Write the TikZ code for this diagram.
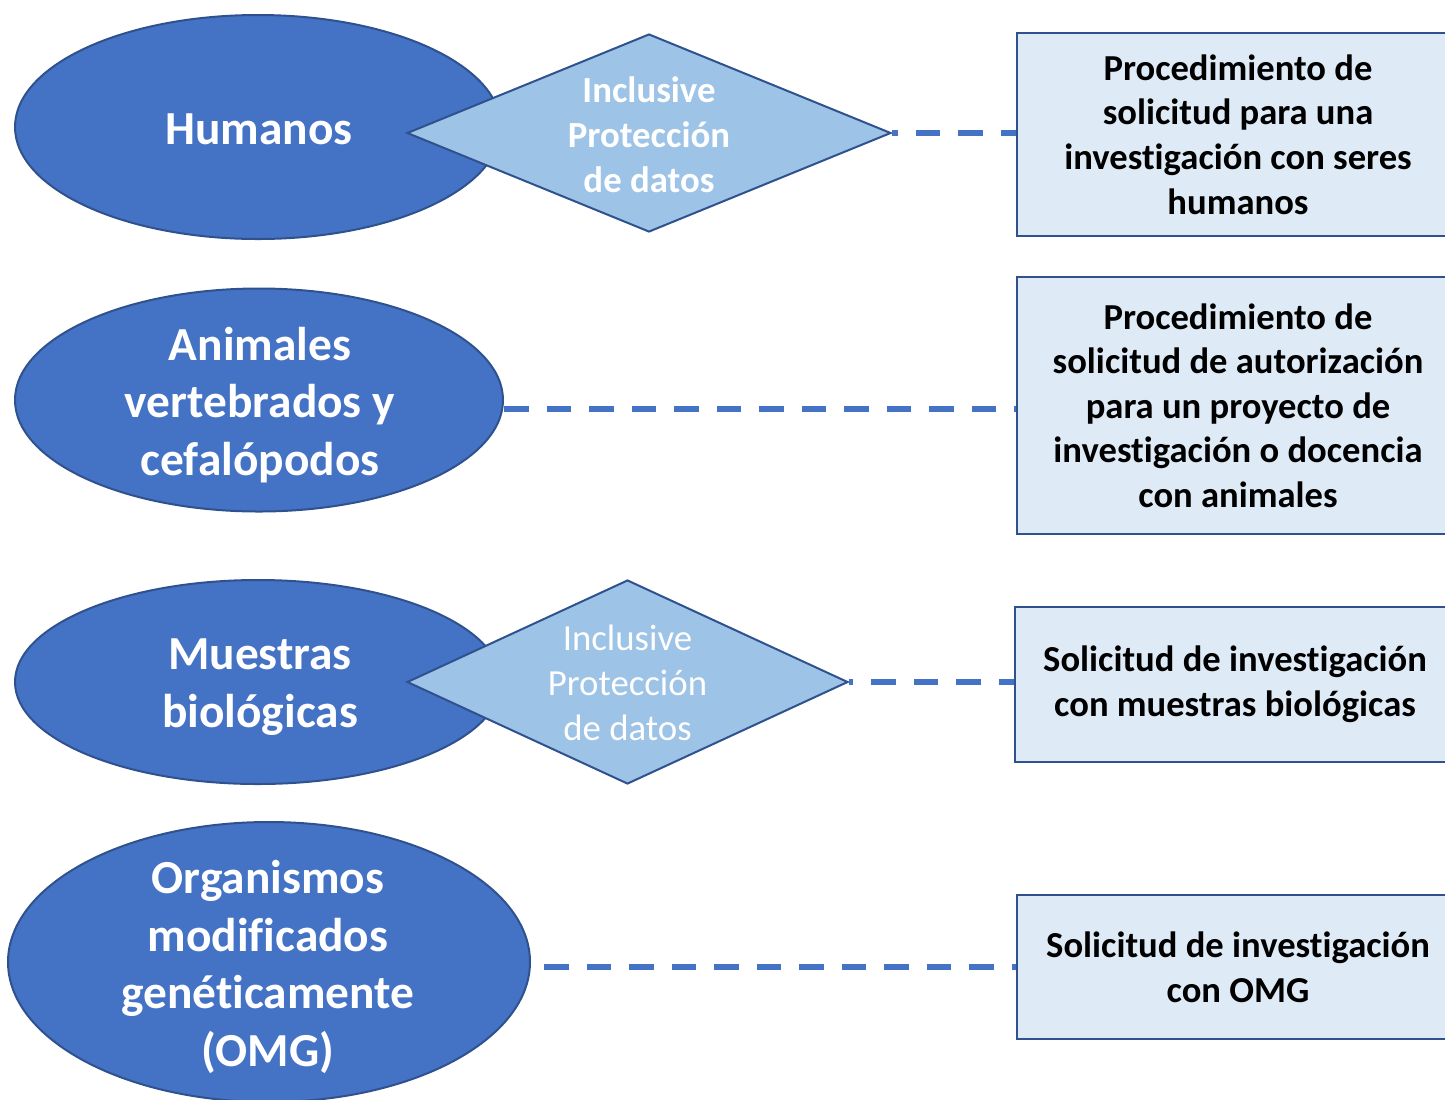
\documentclass[tikz,border=0pt]{standalone}
\usepackage{fontspec}
\setmainfont{Carlito}[RawFeature=-liga]
\usetikzlibrary{shapes.geometric}
\definecolor{ellfill}{HTML}{4472C4}
\definecolor{edgeblue}{HTML}{2F528F}
\definecolor{diafill}{HTML}{9DC3E6}
\definecolor{boxfill}{HTML}{DEEBF7}
\definecolor{dashblue}{HTML}{4472C4}
\tikzset{
  ellnode/.style={ellipse, draw=edgeblue, line width=1pt, fill=ellfill, inner sep=0pt},
  elltext/.style={text=white, align=center, inner sep=0pt, font=\fontsize{23.7}{28.75}\selectfont\bfseries},
  dianode/.style={diamond, draw=edgeblue, line width=1pt, fill=diafill, inner sep=0pt},
  diatext/.style={text=white, align=center, inner sep=0pt, font=\fontsize{18.4}{22.5}\selectfont},
  boxnode/.style={rectangle, draw=edgeblue, line width=1pt, fill=boxfill, inner sep=0pt,
     text=black, align=center, font=\fontsize{18.3}{22.3}\selectfont\bfseries},
  link/.style={draw=dashblue, line width=3pt, dash pattern=on 12.25pt off 9pt}
}
\begin{document}
\begin{tikzpicture}[x=0.5pt,y=-0.5pt]
\useasboundingbox (0,0) rectangle (1445,1099);
% row 1
\node[ellnode, minimum width=243pt, minimum height=112pt] (e1) at (258,127) {};
\node[elltext] (et1) at (259,129) {Humanos};
\node[dianode, minimum width=242pt, minimum height=99pt] (d1) at (649,133) {};
\node[diatext, font=\fontsize{18.4}{22.5}\selectfont\bfseries] (t1) at (649,135) {Inclusive\\Protección\\de datos};
\node[boxnode, minimum width=221pt, minimum height=101.5pt] (b1) at (1238,134.5) {Procedimiento de\\solicitud para una\\investigación con seres\\humanos};
\draw[link, dash phase=4.5pt] (d1.east -| b1.west) -- (d1.east);
% row 2
\node[ellnode, minimum width=244pt, minimum height=111.5pt] (e2) at (259,400) {};
\node[elltext] (et2) at (260,405) {Animales\\vertebrados y\\cefalópodos};
\node[boxnode, minimum width=221pt, minimum height=128.5pt] (b2) at (1238,405.5) {Procedimiento de\\solicitud de autorización\\para un proyecto de\\investigación o docencia\\con animales};
\draw[link] ([yshift=-4.5pt]e2.east) -- ([yshift=-1.75pt]b2.west);
% row 3
\node[ellnode, minimum width=243pt, minimum height=102pt] (e3) at (258,682) {};
\node[elltext] (et3) at (260,687) {Muestras\\biológicas};
\node[dianode, minimum width=220.5pt, minimum height=102pt] (d3) at (627.5,682) {};
\node[diatext] (t3) at (627.5,683) {Inclusive\\Protección\\de datos};
\node[boxnode, minimum width=220pt, minimum height=77.5pt] (b3) at (1235,684) {Solicitud de investigación\\con muestras biológicas};
\draw[link, dash phase=4.5pt] (d3.east -| b3.west) -- (d3.east);
% row 4
\node[ellnode, minimum width=261pt, minimum height=140pt] (e4) at (269,962) {};
\node[elltext] (et4) at (268,967) {Organismos\\modificados\\genéticamente\\(OMG)};
\node[boxnode, minimum width=221pt, minimum height=72pt] (b4) at (1238,967) {Solicitud de investigación\\con OMG};
\coordinate (c4) at (544,967);
\draw[link] (c4) -- (b4.west);
\end{tikzpicture}
\end{document}
